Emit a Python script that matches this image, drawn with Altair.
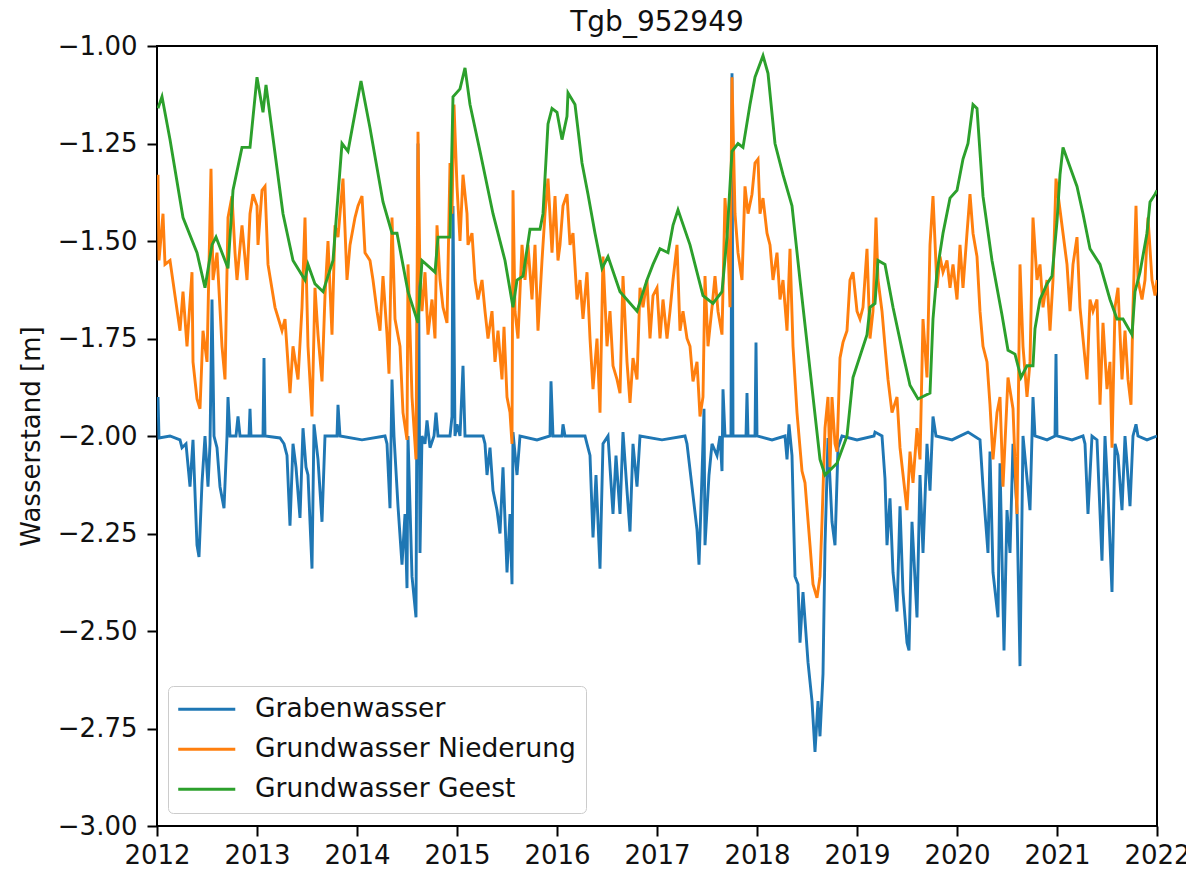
import altair as alt
import pandas as pd

# ---- data (decimal year, water level in m) ----
graben_x = [2012.01, 2012.02, 2012.13, 2012.23, 2012.25, 2012.29, 2012.33, 2012.36, 2012.40, 2012.42,
            2012.45, 2012.48, 2012.51, 2012.53, 2012.55, 2012.57, 2012.60, 2012.63, 2012.67, 2012.70,
            2012.71, 2012.73, 2012.79, 2012.81, 2012.83, 2012.92, 2012.93, 2012.94, 2013.06, 2013.07,
            2013.08, 2013.23, 2013.27, 2013.30, 2013.33, 2013.36, 2013.39, 2013.43, 2013.46, 2013.49,
            2013.51, 2013.55, 2013.57, 2013.61, 2013.65, 2013.68, 2013.80, 2013.81, 2013.83, 2014.05,
            2014.28, 2014.30, 2014.33, 2014.35, 2014.37, 2014.41, 2014.45, 2014.48, 2014.50, 2014.51,
            2014.55, 2014.59, 2014.61, 2014.63, 2014.65, 2014.68, 2014.70, 2014.73, 2014.77, 2014.79,
            2014.81, 2014.93, 2014.95, 2014.96, 2014.98, 2015.00, 2015.03, 2015.06, 2015.08, 2015.26,
            2015.28, 2015.30, 2015.33, 2015.36, 2015.40, 2015.43, 2015.46, 2015.50, 2015.53, 2015.55,
            2015.56, 2015.60, 2015.63, 2015.80, 2015.93, 2015.94, 2015.96, 2016.05, 2016.06, 2016.08,
            2016.28, 2016.30, 2016.33, 2016.36, 2016.39, 2016.43, 2016.46, 2016.51, 2016.56, 2016.59,
            2016.63, 2016.66, 2016.70, 2016.73, 2016.76, 2016.80, 2016.83, 2017.05, 2017.28, 2017.30,
            2017.35, 2017.40, 2017.42, 2017.45, 2017.47, 2017.48, 2017.52, 2017.55, 2017.60, 2017.63,
            2017.65, 2017.66, 2017.68, 2017.74, 2017.75, 2017.76, 2017.89, 2017.90, 2017.91, 2017.98,
            2017.99, 2018.00, 2018.15, 2018.28, 2018.30, 2018.32, 2018.35, 2018.38, 2018.41, 2018.43,
            2018.46, 2018.51, 2018.55, 2018.58, 2018.61, 2018.63, 2018.66, 2018.68, 2018.71, 2018.75,
            2018.78, 2018.81, 2018.85, 2019.00, 2019.17, 2019.18, 2019.25, 2019.28, 2019.30, 2019.33,
            2019.36, 2019.40, 2019.43, 2019.46, 2019.50, 2019.52, 2019.55, 2019.60, 2019.63, 2019.66,
            2019.70, 2019.73, 2019.76, 2019.79, 2019.95, 2020.11, 2020.23, 2020.26, 2020.31, 2020.33,
            2020.36, 2020.41, 2020.43, 2020.47, 2020.50, 2020.53, 2020.56, 2020.60, 2020.63, 2020.66,
            2020.73, 2020.75, 2020.76, 2020.78, 2020.90, 2020.98, 2020.99, 2021.00, 2021.15, 2021.26,
            2021.28, 2021.31, 2021.35, 2021.40, 2021.45, 2021.48, 2021.51, 2021.55, 2021.58, 2021.61,
            2021.65, 2021.68, 2021.73, 2021.76, 2021.79, 2021.81, 2021.90, 2022.00]
graben_y = [-1.90, -2.005, -2.00, -2.01, -2.03, -2.02, -2.13, -2.01, -2.28, -2.31,
            -2.12, -2.00, -2.13, -2.02, -1.65, -2.00, -2.03, -2.13, -2.185, -2.00,
            -1.90, -2.00, -2.00, -1.95, -2.00, -2.00, -1.93, -2.00, -2.00, -1.80,
            -2.00, -2.005, -2.02, -2.05, -2.23, -2.02, -2.08, -2.21, -1.98, -2.08,
            -2.10, -2.34, -1.97, -2.06, -2.22, -2.00, -2.00, -1.92, -2.00, -2.01,
            -2.00, -2.02, -2.185, -1.855, -2.00, -2.18, -2.33, -2.20, -2.39, -2.00,
            -2.36, -2.465, -1.25, -2.30, -2.00, -2.02, -1.96, -2.03, -2.00, -1.94,
            -2.00, -2.00, -1.95, -1.41, -2.00, -1.97, -2.00, -1.82, -2.00, -2.00,
            -2.02, -2.10, -2.03, -2.14, -2.19, -2.25, -2.08, -2.35, -2.20, -2.38,
            -1.99, -2.10, -2.00, -2.01, -2.00, -1.86, -2.00, -2.00, -1.97, -2.00,
            -2.00, -2.02, -2.05, -2.26, -2.10, -2.34, -2.02, -2.00, -2.20, -2.05,
            -2.20, -1.99, -2.14, -2.245, -2.02, -2.13, -2.00, -2.01, -2.00, -2.02,
            -2.13, -2.24, -2.33, -2.10, -1.93, -2.28, -2.10, -2.02, -2.05, -2.00,
            -2.09, -1.88, -2.00, -2.00, -1.07, -2.00, -2.00, -1.89, -2.00, -2.00,
            -1.76, -2.00, -2.01, -2.00, -2.06, -1.97, -2.05, -2.36, -2.38, -2.53,
            -2.40, -2.58, -2.68, -2.81, -2.68, -2.77, -2.61, -2.28, -2.005, -2.22,
            -2.28, -2.03, -2.00, -2.01, -2.00, -1.99, -2.00, -2.11, -2.28, -2.16,
            -2.35, -2.45, -2.18, -2.40, -2.53, -2.55, -2.22, -2.465, -2.10, -2.30,
            -2.02, -2.14, -1.95, -2.00, -2.01, -1.99, -2.01, -2.13, -2.30, -2.04,
            -2.35, -2.465, -2.07, -2.55, -2.19, -2.30, -2.02, -2.19, -2.59, -2.00,
            -2.19, -2.00, -1.90, -2.00, -2.01, -2.00, -1.79, -2.00, -2.01, -2.00,
            -2.02, -2.20, -2.00, -2.01, -2.32, -2.00, -2.15, -2.40, -2.02, -2.05,
            -2.19, -2.00, -2.18, -2.00, -1.97, -2.00, -2.01, -2.00]

nied_x = [2012.01, 2012.02, 2012.06, 2012.08, 2012.13, 2012.18, 2012.23, 2012.26, 2012.30, 2012.35,
          2012.36, 2012.40, 2012.43, 2012.46, 2012.50, 2012.54, 2012.56, 2012.60, 2012.65, 2012.68,
          2012.71, 2012.75, 2012.78, 2012.80, 2012.85, 2012.90, 2012.93, 2012.96, 2013.00, 2013.01,
          2013.05, 2013.08, 2013.11, 2013.18, 2013.25, 2013.28, 2013.33, 2013.36, 2013.41, 2013.45,
          2013.48, 2013.51, 2013.55, 2013.58, 2013.61, 2013.65, 2013.68, 2013.71, 2013.75, 2013.78,
          2013.81, 2013.86, 2013.90, 2013.93, 2013.98, 2014.01, 2014.05, 2014.08, 2014.13, 2014.16,
          2014.20, 2014.23, 2014.26, 2014.30, 2014.32, 2014.35, 2014.38, 2014.43, 2014.46, 2014.50,
          2014.51, 2014.55, 2014.59, 2014.61, 2014.63, 2014.65, 2014.68, 2014.71, 2014.75, 2014.78,
          2014.80, 2014.83, 2014.86, 2014.90, 2014.93, 2014.95, 2014.97, 2015.00, 2015.03, 2015.06,
          2015.10, 2015.11, 2015.15, 2015.18, 2015.21, 2015.25, 2015.28, 2015.31, 2015.35, 2015.38,
          2015.41, 2015.45, 2015.47, 2015.50, 2015.53, 2015.55, 2015.56, 2015.58, 2015.61, 2015.65,
          2015.68, 2015.71, 2015.75, 2015.78, 2015.81, 2015.85, 2015.88, 2015.91, 2015.95, 2015.98,
          2016.01, 2016.03, 2016.06, 2016.10, 2016.13, 2016.16, 2016.20, 2016.23, 2016.26, 2016.30,
          2016.33, 2016.36, 2016.40, 2016.43, 2016.46, 2016.50, 2016.53, 2016.56, 2016.60, 2016.63,
          2016.66, 2016.70, 2016.73, 2016.76, 2016.80, 2016.83, 2016.86, 2016.90, 2016.93, 2016.96,
          2017.00, 2017.03, 2017.06, 2017.10, 2017.13, 2017.16, 2017.20, 2017.23, 2017.26, 2017.30,
          2017.33, 2017.36, 2017.40, 2017.43, 2017.46, 2017.48, 2017.51, 2017.55, 2017.58, 2017.61,
          2017.65, 2017.68, 2017.71, 2017.73, 2017.75, 2017.78, 2017.81, 2017.85, 2017.88, 2017.91,
          2017.95, 2017.98, 2018.01, 2018.03, 2018.06, 2018.10, 2018.13, 2018.16, 2018.20, 2018.23,
          2018.26, 2018.30, 2018.33, 2018.36, 2018.40, 2018.45, 2018.48, 2018.53, 2018.56, 2018.60,
          2018.63, 2018.65, 2018.68, 2018.71, 2018.73, 2018.75, 2018.78, 2018.80, 2018.83, 2018.86,
          2018.90, 2018.93, 2018.96, 2019.00, 2019.03, 2019.06, 2019.10, 2019.13, 2019.16, 2019.19,
          2019.21, 2019.25, 2019.28, 2019.31, 2019.35, 2019.40, 2019.43, 2019.50, 2019.53, 2019.56,
          2019.60, 2019.63, 2019.66, 2019.70, 2019.73, 2019.76, 2019.80, 2019.83, 2019.86, 2019.90,
          2019.93, 2019.96, 2020.00, 2020.03, 2020.06, 2020.10, 2020.13, 2020.16, 2020.20, 2020.23,
          2020.26, 2020.30, 2020.33, 2020.36, 2020.40, 2020.43, 2020.46, 2020.51, 2020.56, 2020.60,
          2020.63, 2020.66, 2020.70, 2020.73, 2020.76, 2020.80, 2020.83, 2020.86, 2020.90, 2020.93,
          2020.96, 2020.99, 2021.02, 2021.06, 2021.10, 2021.13, 2021.16, 2021.20, 2021.23, 2021.26,
          2021.30, 2021.33, 2021.36, 2021.40, 2021.43, 2021.46, 2021.50, 2021.53, 2021.55, 2021.58,
          2021.61, 2021.65, 2021.68, 2021.71, 2021.74, 2021.76, 2021.79, 2021.81, 2021.85, 2021.88,
          2021.91, 2021.95, 2021.98, 2022.00]
nied_y = [-1.33, -1.55, -1.43, -1.56, -1.55, -1.64, -1.73, -1.63, -1.77, -1.58,
          -1.81, -1.905, -1.93, -1.73, -1.81, -1.315, -1.60, -1.53, -1.77, -1.855,
          -1.44, -1.385, -1.53, -1.60, -1.46, -1.60, -1.43, -1.38, -1.41, -1.51,
          -1.37, -1.36, -1.56, -1.67, -1.73, -1.70, -1.89, -1.77, -1.855, -1.67,
          -1.44, -1.77, -1.95, -1.62, -1.74, -1.86, -1.64, -1.50, -1.74, -1.46,
          -1.49, -1.34, -1.60, -1.51, -1.44, -1.41, -1.385, -1.53, -1.55, -1.60,
          -1.68, -1.73, -1.59, -1.74, -1.84, -1.44, -1.70, -1.77, -1.94, -2.01,
          -1.56, -1.90, -2.06, -1.22, -1.60, -1.68, -1.58, -1.74, -1.65, -1.75,
          -1.46, -1.60, -1.67, -1.71, -1.30, -1.43, -1.15, -1.36, -1.50, -1.33,
          -1.43, -1.51, -1.48, -1.60, -1.65, -1.60, -1.68, -1.75, -1.68, -1.81,
          -1.73, -1.855, -1.72, -1.90, -1.94, -2.02, -1.37, -1.68, -1.75, -1.51,
          -1.60, -1.51, -1.65, -1.51, -1.73, -1.55, -1.43, -1.34, -1.53, -1.385,
          -1.55, -1.51, -1.41, -1.38, -1.51, -1.48, -1.65, -1.60, -1.70, -1.58,
          -1.75, -1.88, -1.75, -1.94, -1.54, -1.77, -1.68, -1.82, -1.855, -1.89,
          -1.59, -1.81, -1.915, -1.80, -1.855, -1.62, -1.67, -1.60, -1.75, -1.64,
          -1.62, -1.75, -1.65, -1.75, -1.68, -1.60, -1.51, -1.73, -1.68, -1.75,
          -1.77, -1.86, -1.81, -1.95, -1.90, -1.59, -1.77, -1.67, -1.59, -1.68,
          -1.74, -1.39, -1.51, -1.67, -1.08, -1.43, -1.53, -1.60, -1.36, -1.43,
          -1.38, -1.30, -1.29, -1.43, -1.39, -1.48, -1.51, -1.60, -1.53, -1.65,
          -1.60, -1.73, -1.52, -1.77, -1.94, -2.09, -2.12, -2.28, -2.38, -2.415,
          -2.36, -2.22, -1.98, -1.90, -2.08, -1.90, -2.02, -2.04, -1.80, -1.76,
          -1.73, -1.60, -1.58, -1.68, -1.70, -1.67, -1.52, -1.75, -1.68, -1.44,
          -1.60, -1.68, -1.77, -1.855, -1.94, -1.90, -2.03, -2.19, -2.04, -2.12,
          -1.98, -2.06, -1.70, -1.85, -1.51, -1.385, -1.62, -1.54, -1.58, -1.55,
          -1.62, -1.56, -1.65, -1.51, -1.62, -1.48, -1.38, -1.48, -1.54, -1.68,
          -1.77, -1.81, -1.92, -2.06, -1.94, -1.90, -2.13, -1.85, -1.93, -2.20,
          -1.56, -1.77, -1.90, -1.81, -1.44, -1.60, -1.56, -1.67, -1.60, -1.73,
          -1.60, -1.34, -1.40, -1.48, -1.56, -1.68, -1.56, -1.49, -1.67, -1.75,
          -1.855, -1.65, -1.68, -1.65, -1.92, -1.71, -1.88, -1.81, -2.03, -1.67,
          -1.62, -1.855, -1.73, -1.855, -1.92, -1.67, -1.41, -1.60, -1.65, -1.60,
          -1.44, -1.60, -1.64, -1.60]

geest_x = [2012.01, 2012.05, 2012.13, 2012.26, 2012.40, 2012.48, 2012.55, 2012.59, 2012.71, 2012.76,
           2012.85, 2012.93, 2013.00, 2013.06, 2013.09, 2013.26, 2013.36, 2013.48, 2013.51, 2013.58,
           2013.66, 2013.76, 2013.85, 2013.91, 2013.96, 2014.04, 2014.13, 2014.26, 2014.35, 2014.40,
           2014.51, 2014.61, 2014.65, 2014.78, 2014.81, 2014.93, 2014.96, 2015.03, 2015.08, 2015.13,
           2015.23, 2015.36, 2015.48, 2015.56, 2015.60, 2015.66, 2015.73, 2015.83, 2015.86, 2015.91,
           2015.95, 2016.00, 2016.05, 2016.10, 2016.11, 2016.18, 2016.25, 2016.31, 2016.38, 2016.45,
           2016.51, 2016.63, 2016.80, 2016.90, 2016.96, 2017.03, 2017.11, 2017.16, 2017.21, 2017.33,
           2017.46, 2017.56, 2017.65, 2017.70, 2017.75, 2017.81, 2017.86, 2017.93, 2017.98, 2018.06,
           2018.11, 2018.18, 2018.26, 2018.35, 2018.43, 2018.53, 2018.63, 2018.68, 2018.80, 2018.90,
           2018.96, 2019.10, 2019.13, 2019.18, 2019.21, 2019.28, 2019.36, 2019.46, 2019.53, 2019.61,
           2019.73, 2019.76, 2019.80, 2019.86, 2019.93, 2020.00, 2020.06, 2020.11, 2020.16, 2020.20,
           2020.26, 2020.35, 2020.45, 2020.51, 2020.58, 2020.64, 2020.70, 2020.76, 2020.78, 2020.83,
           2020.90, 2020.95, 2021.00, 2021.03, 2021.06, 2021.13, 2021.20, 2021.26, 2021.33, 2021.43,
           2021.53, 2021.60, 2021.66, 2021.75, 2021.78, 2021.83, 2021.90, 2021.93, 2021.98, 2022.00]
geest_y = [-1.16, -1.13, -1.24, -1.44, -1.53, -1.62, -1.51, -1.49, -1.57, -1.37,
           -1.26, -1.26, -1.08, -1.17, -1.10, -1.43, -1.55, -1.60, -1.56, -1.61,
           -1.63, -1.55, -1.25, -1.27, -1.20, -1.09, -1.21, -1.40, -1.48, -1.48,
           -1.63, -1.71, -1.55, -1.58, -1.49, -1.49, -1.13, -1.11, -1.056, -1.15,
           -1.27, -1.43, -1.55, -1.67, -1.60, -1.59, -1.47, -1.47, -1.43, -1.20,
           -1.16, -1.17, -1.24, -1.18, -1.12, -1.15, -1.30, -1.38, -1.48, -1.57,
           -1.54, -1.63, -1.68, -1.60, -1.56, -1.52, -1.53, -1.46, -1.42, -1.51,
           -1.64, -1.66, -1.63, -1.49, -1.27, -1.25, -1.26, -1.15, -1.08, -1.025,
           -1.07, -1.25, -1.33, -1.41, -1.60, -1.83, -2.06, -2.10, -2.07, -2.00,
           -1.85, -1.74, -1.67, -1.66, -1.55, -1.56, -1.67, -1.79, -1.87, -1.905,
           -1.89, -1.70, -1.58, -1.48, -1.39, -1.37, -1.29, -1.25, -1.15, -1.16,
           -1.385, -1.55, -1.69, -1.78, -1.79, -1.85, -1.82, -1.82, -1.725, -1.65,
           -1.61, -1.59, -1.45, -1.33, -1.26, -1.31, -1.36, -1.43, -1.52, -1.56,
           -1.65, -1.70, -1.70, -1.74, -1.63, -1.58, -1.48, -1.40, -1.38, -1.37]

series_names = ["Grabenwasser", "Grundwasser Niederung", "Grundwasser Geest"]
series_colors = ["#1f77b4", "#ff7f0e", "#2ca02c"]
y_ticks = [-3.0, -2.75, -2.5, -2.25, -2.0, -1.75, -1.5, -1.25, -1.0]
x_ticks = list(range(2012, 2023))

frames = []
for name, xs, ys in zip(series_names, [graben_x, nied_x, geest_x], [graben_y, nied_y, geest_y]):
    frames.append(pd.DataFrame({"t": xs, "v": ys, "serie": name, "idx": range(len(xs))}))
df = pd.concat(frames, ignore_index=True)

FONT = "DejaVu Sans"
TXT = "#111111"

color = alt.Color(
    "serie:N",
    scale=alt.Scale(domain=series_names, range=series_colors),
    legend=alt.Legend(
        title=None,
        orient="none",
        legendX=11,
        legendY=640,
        direction="vertical",
        symbolType="M-2.48,0H2.48",
        symbolSize=529,
        symbolStrokeWidth=3,
        symbolOffset=15.5,
        labelFontSize=26.5,
        labelFont=FONT,
        labelColor=TXT,
        labelOffset=35,
        rowPadding=13,
        padding=10,
        fillColor="white",
        strokeColor="#cccccc",
        cornerRadius=5,
        labelLimit=600,
    ),
)

x_enc = alt.X(
    "t:Q",
    scale=alt.Scale(domain=[2012, 2022], nice=False, zero=False),
    axis=alt.Axis(values=x_ticks, format="d", title=None, labelFlush=False, labelPadding=6),
)
y_enc = alt.Y(
    "v:Q",
    scale=alt.Scale(domain=[-3, -1], nice=False, zero=False),
    axis=alt.Axis(values=y_ticks, format=".2f", title="Wasserstand [m]", labelPadding=10,
                  titleFontSize=26, titlePadding=13),
)

layers = []
for name in series_names:
    layers.append(
        alt.Chart(df)
        .transform_filter(alt.datum.serie == name)
        .mark_line(strokeWidth=2.9, clip=True)
        .encode(x=x_enc, y=y_enc, color=color, order="idx:Q")
    )

chart = (
    alt.layer(*layers)
    .properties(
        width=1000,
        height=780,
        title=alt.Title("Tgb_952949", fontSize=28, font=FONT, fontWeight="normal", color=TXT, offset=-4),
        autosize=alt.AutoSizeParams(type="none"),
        padding={"left": 149, "top": 38, "right": 29, "bottom": 39},
    )
    .configure_view(stroke="black", strokeWidth=2)
    .configure_axis(
        domain=False,
        grid=False,
        ticks=True,
        tickColor="black",
        tickSize=10,
        tickWidth=2,
        labelFont=FONT,
        labelFontSize=26,
        labelColor=TXT,
        titleFont=FONT,
        titleFontWeight="normal",
        titleColor=TXT,
    )
)

chart.save("out.html", embed_options={"renderer": "svg", "actions": False})
